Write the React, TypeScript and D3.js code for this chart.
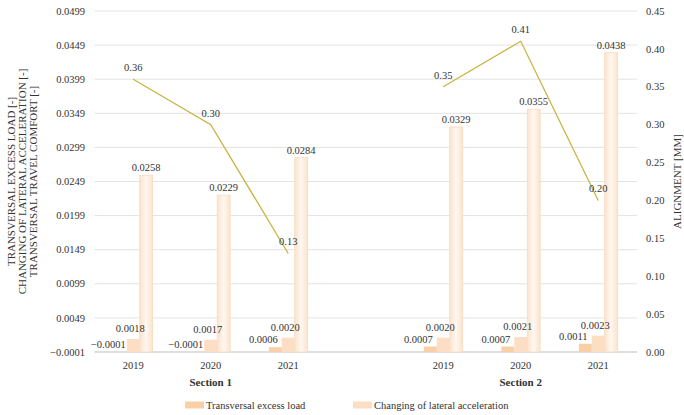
import * as d3 from "d3";

const SECTIONS = ["Section 1", "Section 2"];
const YEARS = ["2019", "2020", "2021"];

// per section, per year (Section 1: 2019-2021, then Section 2: 2019-2021)
const EXCESS_LOAD = [-0.0001, -0.0001, 0.0006, 0.0007, 0.0007, 0.0011];
const LATERAL_ACC = [0.0018, 0.0017, 0.002, 0.002, 0.0021, 0.0023];
const TRAVEL_COMFORT = [0.0258, 0.0229, 0.0284, 0.0329, 0.0355, 0.0438];
const ALIGNMENT = [0.36, 0.3, 0.13, 0.35, 0.41, 0.2];

const LEFT_TICKS = [
  -0.0001, 0.0049, 0.0099, 0.0149, 0.0199, 0.0249, 0.0299, 0.0349, 0.0399, 0.0449, 0.0499,
];
const RIGHT_TICKS = [0, 0.05, 0.1, 0.15, 0.2, 0.25, 0.3, 0.35, 0.4, 0.45];

const LEGEND = ["Transversal excess load", "Changing of lateral acceleration"];

const W = 684;
const H = 415;
const PLOT = { left: 94.5, right: 637, top: 11, bottom: 352 };
const FONT = '"Liberation Serif", "Times New Roman", serif';
const COLORS = ["#f8cfa6", "#fbdec3", "#fdf0e4"];
const LINE_COLOR = "#c9b444";
const TEXT = "#333";

export default function App() {
  // one empty slot between the two sections
  const slots = ["0", "1", "2", "gap", "3", "4", "5"];
  const x = d3.scaleBand<string>().domain(slots).range([PLOT.left, PLOT.right]);
  const inner = d3
    .scaleBand<number>()
    .domain([0, 1, 2])
    .range([x.bandwidth() / 4, (x.bandwidth() * 3) / 4]);
  const y = d3.scaleLinear().domain([-0.0001, 0.0499]).range([PLOT.bottom, PLOT.top]);
  const yR = d3.scaleLinear().domain([0, 0.45]).range([PLOT.bottom, PLOT.top]);

  const cx = (i: number) => (x(String(i)) ?? 0) + x.bandwidth() / 2;
  const series = [EXCESS_LOAD, LATERAL_ACC, TRAVEL_COMFORT];
  const fmt4 = d3.format(".4f");
  const fmt2 = d3.format(".2f");

  const sectionLines = SECTIONS.map((_, s) => {
    const idx = [0, 1, 2].map((k) => s * 3 + k);
    return d3
      .line<number>()
      .x((i) => cx(i))
      .y((i) => yR(ALIGNMENT[i]))(idx);
  });

  const midY = (PLOT.top + PLOT.bottom) / 2;

  return (
    <svg
      width={W}
      height={H}
      style={{ position: "absolute", left: 0, top: 0, background: "#fff", fontFamily: FONT }}
    >
      <defs>
        <linearGradient id="g3" x1="0" x2="1" y1="0" y2="0">
          <stop offset="0" stopColor="#fbe3cd" />
          <stop offset="0.5" stopColor="#fff7f0" />
          <stop offset="1" stopColor="#fbe3cd" />
        </linearGradient>
      </defs>

      {/* gridlines */}
      {LEFT_TICKS.map((t) => (
        <line
          key={t}
          x1={PLOT.left}
          x2={PLOT.right}
          y1={y(t)}
          y2={y(t)}
          stroke={t === LEFT_TICKS[0] ? "#bdbdbd" : "#e3e3e3"}
          strokeWidth={1}
        />
      ))}

      {/* left ticks */}
      {LEFT_TICKS.map((t) => (
        <text
          key={`l${t}`}
          x={85}
          y={y(t)}
          dy="0.35em"
          textAnchor="end"
          fontSize={10.5}
          fill={TEXT}
        >
          {fmt4(t)}
        </text>
      ))}

      {/* right ticks */}
      {RIGHT_TICKS.map((t) => (
        <text key={`r${t}`} x={646} y={yR(t)} dy="0.35em" fontSize={10.5} fill={TEXT}>
          {fmt2(t)}
        </text>
      ))}

      {/* bars */}
      {series.map((vals, k) =>
        vals.map((v, i) => {
          const x0 = (x(String(i)) ?? 0) + (inner(k) ?? 0);
          const top = y(Math.max(v, -0.0001));
          return (
            <rect
              key={`b${k}-${i}`}
              x={x0}
              y={Math.min(top, PLOT.bottom)}
              width={inner.bandwidth()}
              height={Math.abs(PLOT.bottom - top)}
              fill={k === 2 ? "url(#g3)" : COLORS[k]}
              stroke={k === 2 ? "#f8dbbf" : "none"}
              strokeWidth={0.8}
            />
          );
        }),
      )}

      {/* bar labels */}
      {series.map((vals, k) =>
        vals.map((v, i) => {
          const bx = (x(String(i)) ?? 0) + (inner(k) ?? 0) + inner.bandwidth() / 2;
          const top = y(Math.max(v, -0.0001));
          const dx = k === 0 ? -12 : k === 1 ? -3 : 0;
          const dy = k === 1 ? -7 : -4;
          return (
            <text
              key={`t${k}-${i}`}
              x={bx + dx}
              y={top + dy}
              textAnchor="middle"
              fontSize={10.5}
              fill={TEXT}
            >
              {fmt4(v)}
            </text>
          );
        }),
      )}

      {/* alignment line */}
      {sectionLines.map((d, s) => (
        <path key={`ln${s}`} d={d ?? ""} fill="none" stroke={LINE_COLOR} strokeWidth={1.3} />
      ))}
      {ALIGNMENT.map((v, i) => (
        <text
          key={`a${i}`}
          x={cx(i)}
          y={yR(v) - 8}
          textAnchor="middle"
          fontSize={10.5}
          fill={TEXT}
        >
          {fmt2(v)}
        </text>
      ))}

      {/* category axis */}
      {ALIGNMENT.map((_, i) => (
        <text
          key={`y${i}`}
          x={cx(i)}
          y={369}
          textAnchor="middle"
          fontSize={10.5}
          fill={TEXT}
        >
          {YEARS[i % 3]}
        </text>
      ))}
      {SECTIONS.map((s, j) => (
        <text
          key={s}
          x={cx(j * 3 + 1)}
          y={386}
          textAnchor="middle"
          fontSize={11}
          fontWeight="bold"
          fill={TEXT}
        >
          {s}
        </text>
      ))}

      {/* axis titles */}
      <text
        transform={`translate(23,${midY}) rotate(-90)`}
        textAnchor="middle"
        fontSize={11}
        fill={TEXT}
      >
        <tspan x={0} dy="-0.7em">TRANSVERSAL EXCESS LOAD [-]</tspan>
        <tspan x={0} dy="0.98em">CHANGING OF LATERAL ACCELERATION [-]</tspan>
        <tspan x={0} dy="0.98em">TRANSVERSAL TRAVEL COMFORT [-]</tspan>
      </text>
      <text
        transform={`translate(677,${midY}) rotate(-90)`}
        textAnchor="middle"
        dy="0.35em"
        fontSize={11}
        fill={TEXT}
      >
        ALIGNMENT [MM]
      </text>

      {/* legend */}
      {LEGEND.map((l, k) => {
        const lx = [185, 353][k];
        return (
          <g key={l} transform={`translate(${lx},405)`}>
            <rect x={0} y={-3.5} width={19} height={7} fill={COLORS[k]} />
            <text x={21} y={0} dy="0.35em" fontSize={10.5} fill={TEXT}>
              {l}
            </text>
          </g>
        );
      })}
    </svg>
  );
}
